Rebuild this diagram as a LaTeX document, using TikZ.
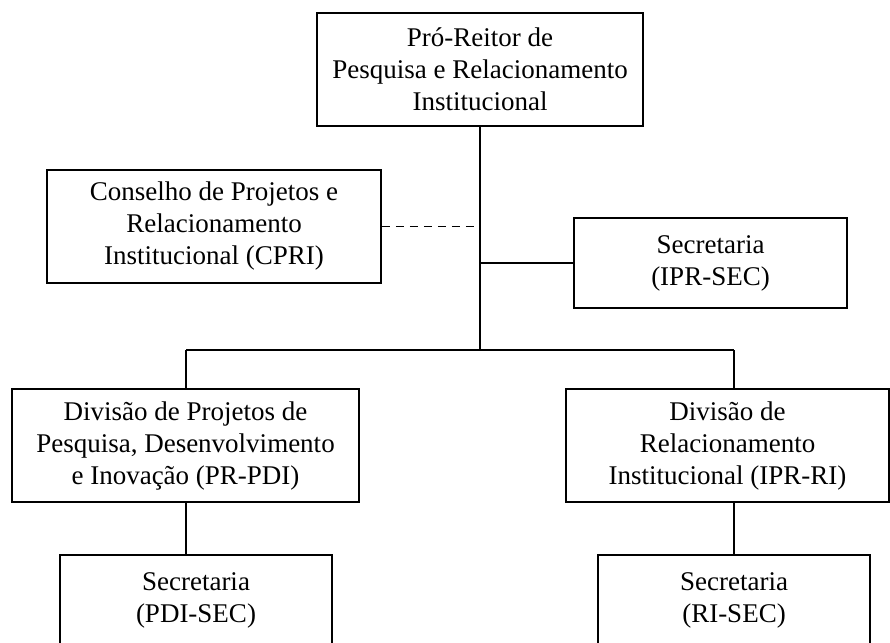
\documentclass[tikz,border=0pt]{standalone}
\usepackage{fontspec}
\setmainfont{Liberation Serif}
\usepackage{tikz}
\usetikzlibrary{positioning}
\tikzstyle{unit} = [rectangle,draw=black,line width=1.6pt,align=center,inner sep=0pt,font=\fontsize{27}{32}\selectfont]
\tikzstyle{line} = [line width=1.6pt]

\begin{document}
\begin{tikzpicture}[x=1pt,y=-1pt]
\useasboundingbox (0,0) rectangle (890,642);
\node (reitor) [unit,minimum width=326pt,minimum height=113pt] at (480,69.5) {Pró-Reitor de\\Pesquisa e Relacionamento\\Institucional};
\node (cpri) [unit,minimum width=334pt,minimum height=113pt] at (214,226.5) {Conselho de Projetos e\\Relacionamento\\Institucional (CPRI)};
\node (iprsec) [unit,minimum width=273pt,minimum height=90pt] at (710.5,263) {Secretaria\\(IPR-SEC)};
\node (pdi) [unit,minimum width=347pt,minimum height=113pt] at (185.5,445.5) {Divisão de Projetos de\\Pesquisa, Desenvolvimento\\e Inovação (PR-PDI)};
\node (ri) [unit,minimum width=323pt,minimum height=113pt] at (727.5,445.5) {Divisão de\\Relacionamento\\Institucional (IPR-RI)};
\node (pdisec) [unit,minimum width=272pt,minimum height=90pt] at (196,600) {Secretaria\\(PDI-SEC)};
\node (risec) [unit,minimum width=272pt,minimum height=90pt] at (734,600) {Secretaria\\(RI-SEC)};

\coordinate (jl) at (186,350);
\coordinate (jr) at (734,350);

\draw [line] (reitor.south) -- (reitor.south |- jl);
\draw [line,dash pattern=on 8pt off 6pt] (cpri.east) -- (cpri.east -| reitor.south);
\draw [line] (iprsec.west) -- (iprsec.west -| reitor.south);
\draw [line] (jl) -- (jr);
\draw [line] (jl) -- (jl |- pdi.north);
\draw [line] (jr) -- (jr |- ri.north);
\draw [line] (jl |- pdi.south) -- (jl |- pdisec.north);
\draw [line] (jr |- ri.south) -- (jr |- risec.north);
\end{tikzpicture}
\end{document}
